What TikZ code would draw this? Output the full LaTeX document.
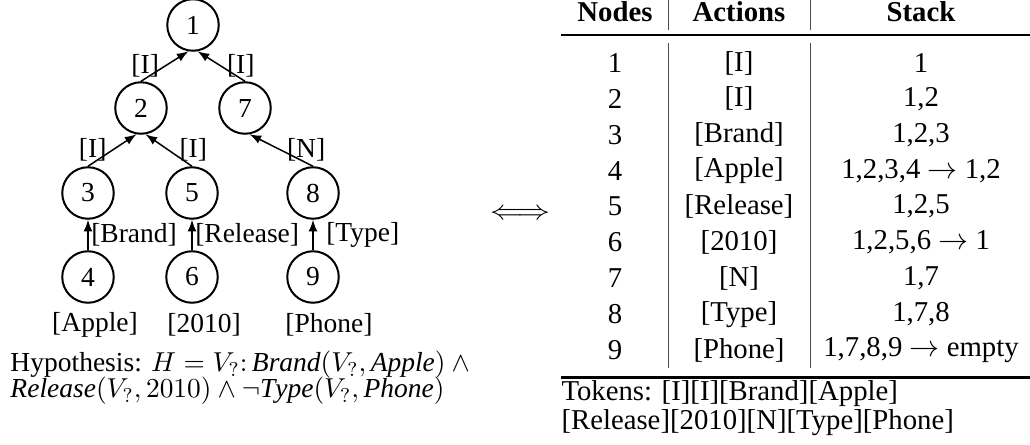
\documentclass[tikz,border=0pt]{standalone}
\usepackage{fontspec}
\setmainfont{Liberation Serif}
\usetikzlibrary{positioning}

\begin{document}
\begin{tikzpicture}
                    [>=latex,x=0.4pt,y=-0.4pt,font=\fontsize{11}{13}\selectfont,
                     vertex/.style={draw,circle,line width=0.8pt,minimum size=20.6pt,inner sep=0pt},
                     lbl/.style={inner sep=2pt},
                     cell/.style={inner sep=0pt,font=\fontsize{11.5}{14}\selectfont},
                     hyp/.style={anchor=west,inner sep=0pt},
                     colrule/.style={line width=0.4pt,black!70}]

                \useasboundingbox (0,0) rectangle (1030,445);

                % the tree
                \node[vertex] (n1) at (193,25) {1};
                \node[vertex] (n2) at (141,108) {2};
                \node[vertex] (n7) at (245,108) {7};
                \node[vertex] (n3) at (88,193) {3};
                \node[vertex] (n5) at (192,193) {5};
                \node[vertex] (n8) at (313,193) {8};
                \node[vertex] (n4) at (88,277) {4};
                \node[vertex] (n6) at (192,277) {6};
                \node[vertex] (n9) at (313,277) {9};

                \draw[->,line width=0.6pt] (n2.north) -- (n1.260) node[lbl,midway,left] {[I]};
                \draw[->,line width=0.6pt] (n7.north) -- (n1.280) node[lbl,midway,right] {[I]};
                \draw[->,line width=0.6pt] (n3.north) -- (n2.260) node[lbl,midway,left] {[I]};
                \draw[->,line width=0.6pt] (n5.north) -- (n2.280) node[lbl,midway,right,xshift=2pt] {[I]};
                \draw[->,line width=0.6pt] (n8.north) -- (n7.280) node[lbl,midway,right] {[N]};
                \draw[->,line width=0.6pt] (n4.north) -- (n3.south) node[lbl,midway,right,inner sep=1pt] {[Brand]};
                \draw[->,line width=0.6pt] (n6.north) -- (n5.south) node[lbl,midway,right,inner sep=1pt] {[Release]};
                \draw[->,line width=0.6pt] (n9.north) -- (n8.south) node[lbl,midway,right,xshift=3pt] {[Type]};

                \node (tApple) at (95,325) {[Apple]};
                \node (t2010) at (204,325) {[2010]};
                \node (tPhone) at (329,325) {[Phone]};

                \node[hyp] (hyp1) at (10,365)
                    {Hypothesis: $H = V_?{:}\,\mathit{Brand}(V_?, \mathit{Apple}) \wedge{}$};
                \node[hyp] (hyp2) at (10,391)
                    {$\mathit{Release}(V_?, 2010) \wedge \neg \mathit{Type}(V_?, \mathit{Phone})$};

                \node (equiv) at (520,214) {\scalebox{1.2}[1]{$\Longleftrightarrow$}};

                % the table
                \node[cell] (hNodes) at (615,12) {\textbf{Nodes}};
                \node[cell] (hActions) at (739,12) {\textbf{Actions}};
                \node[cell] (hStack) at (921,12) {\textbf{Stack}};

                \draw[line width=0.6pt] (561,35) -- (1030,35);
                \draw[colrule] (668,0) -- (668,30);
                \draw[colrule] (810,0) -- (810,30);
                \draw[colrule] (668,43) -- (668,368);
                \draw[colrule] (810,43) -- (810,368);

                \foreach \nd/\act/\stk [count=\i] in {1/{[I]}/{1}, 2/{[I]}/{1,2}, 3/{[Brand]}/{1,2,3},
                    4/{[Apple]}/{1,2,3,4 $\rightarrow$ 1,2}, 5/{[Release]}/{1,2,5},
                    6/{[2010]}/{1,2,5,6 $\rightarrow$ 1}, 7/{[N]}/{1,7}, 8/{[Type]}/{1,7,8},
                    9/{[Phone]}/{1,7,8,9 $\rightarrow$ empty}}
                {
                    \pgfmathsetmacro\yy{27.1+35.9*\i}
                    \node[cell] (nd\i) at (615,\yy) {\nd};
                    \node[cell] (act\i) at (739,\yy) {\act};
                    \node[cell] (stk\i) at (921,\yy) {\stk};
                }

                \draw[line width=1.2pt] (561,377) -- (1030,377);

                \node[cell,anchor=west] (tok1) at (561,394) {Tokens: [I][I][Brand][Apple]};
                \node[cell,anchor=west] (tok2) at (561,423) {[Release][2010][N][Type][Phone]};

                \end{tikzpicture}
\end{document}
